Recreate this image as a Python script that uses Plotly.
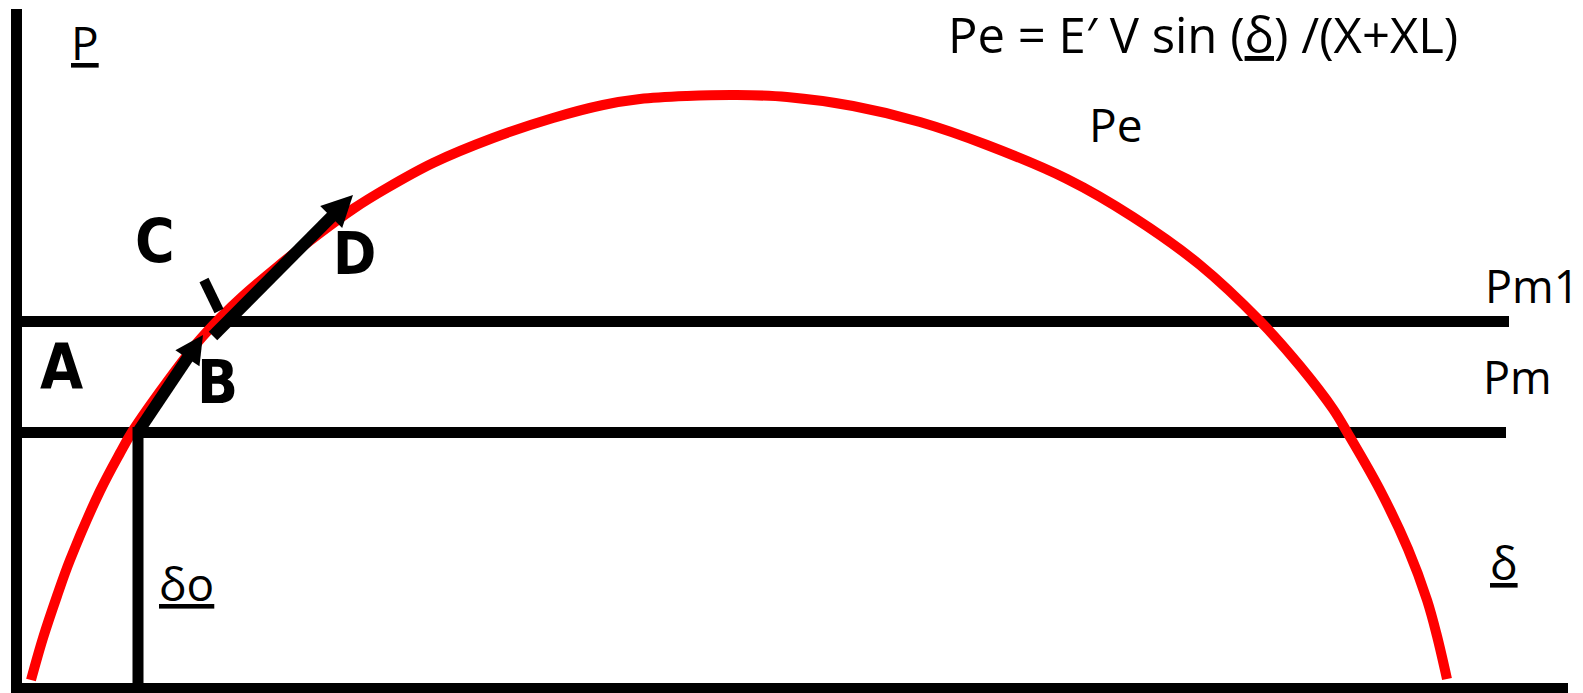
import math
import plotly.graph_objects as go

W, H = 1583, 693

# Electrical power curve Pe(δ), sampled along the drawn arc (diagram units)
pe_delta = [31, 43, 57, 70, 100, 120, 132, 167, 197, 220, 243, 277, 320, 353,
            387, 433, 493, 553, 603, 640, 687, 737, 787, 853, 920, 987, 1067,
            1133, 1200, 1260, 1300, 1333, 1347, 1380, 1408, 1427, 1437, 1447]
pe_power = [13, 55, 97, 133, 202, 240, 261, 311, 350, 375, 397, 426, 460, 484,
            505, 530, 555, 575, 588, 594, 597, 598, 596, 587, 571, 548, 514,
            476, 428, 372, 327, 284, 261, 203, 144, 93, 57, 14]

# Mechanical power levels and the initial operating angle
pm_level = 260.5
pm1_level = 371.5
pm_line_end = 1506
pm1_line_end = 1509
delta0 = 138

# Axis extents
axis_delta = 16.5
axis_power = 4.5
axis_top = 684
axis_right = 1568

# Motion along the curve: A -> B, then C -> D
arrow_ab = [(138, 261), (203, 358)]
arrow_cd = [(213, 357), (353, 498)]
tick_c = [(204, 413), (219, 382)]

BLACK = "#000000"
RED = "#ff0000"
LW = 11

fig = go.Figure()


def seg(xs, ys, color=BLACK, width=LW):
    fig.add_trace(go.Scatter(x=xs, y=ys, mode="lines",
                             line=dict(color=color, width=width),
                             hoverinfo="skip", showlegend=False))


def arrow(tail, tip, width=12, head_len=30, head_w=30):
    dx, dy = tip[0] - tail[0], tip[1] - tail[1]
    n = math.hypot(dx, dy)
    ux, uy = dx / n, dy / n
    px, py = -uy, ux
    bx, by = tip[0] - ux * head_len, tip[1] - uy * head_len
    seg([tail[0], bx + ux * 4], [tail[1], by + uy * 4], width=width)
    fig.add_trace(go.Scatter(
        x=[tip[0], bx + px * head_w / 2, bx - px * head_w / 2, tip[0]],
        y=[tip[1], by + py * head_w / 2, by - py * head_w / 2, tip[1]],
        mode="lines", fill="toself", fillcolor=BLACK,
        line=dict(color=BLACK, width=0), hoverinfo="skip", showlegend=False))


# axes
seg([axis_delta, axis_delta], [0, axis_top])
seg([axis_delta - 5.5, axis_right], [axis_power, axis_power])

# Pm and Pm1 levels
seg([axis_delta, pm1_line_end], [pm1_level, pm1_level])
seg([axis_delta, pm_line_end], [pm_level, pm_level])

# Pe curve
fig.add_trace(go.Scatter(x=pe_delta, y=pe_power, mode="lines",
                         line=dict(color=RED, width=10, shape="spline", smoothing=1.0),
                         hoverinfo="skip", showlegend=False))

# δo drop line
seg([delta0, delta0], [axis_power, pm_level + LW / 2])

# arrows along the curve
arrow(*arrow_ab, width=12, head_len=28, head_w=29)
arrow(*arrow_cd, width=12, head_len=31, head_w=31)
seg([tick_c[0][0], tick_c[1][0]], [tick_c[0][1], tick_c[1][1]], width=10)

THIN = "Open Sans, Noto Sans, DejaVu Sans, sans-serif"
BOLD = "Liberation Sans Narrow, DejaVu Sans Condensed, Roboto, sans-serif"


def label(x, y, text, size, family=THIN, bold=False):
    fig.add_annotation(x=x, y=y, text=text, showarrow=False,
                       xanchor="center", yanchor="middle",
                       font=dict(family=family, size=size, color=BLACK,
                                 weight="bold" if bold else "normal"))


label(85, 693 - 41.5, "<u>P</u>", 46)
label(1203, 693 - 33.5, "Pe = E\u2032 V sin (<u>\u03b4</u>) /(X+XL)", 49)
label(1116, 693 - 123.5, "Pe", 46)
label(1532, 693 - 285.5, "Pm1", 45)
label(1517, 693 - 376.5, "Pm", 45)
label(1504, 693 - 562, "<u>\u03b4</u>", 46)
label(186, 693 - 583, "<u>\u03b4o</u>", 46)

label(61.5, 693 - 366.5, "A", 62, BOLD, True)
label(217.5, 693 - 381.5, "B", 60, BOLD, True)
label(155, 693 - 240.5, "C", 60, BOLD, True)
label(354.5, 693 - 253.5, "D", 58, BOLD, True)

fig.update_layout(
    width=W, height=H, autosize=False,
    margin=dict(l=0, r=0, t=0, b=0, pad=0),
    paper_bgcolor="white", plot_bgcolor="white",
    xaxis=dict(range=[0, W], visible=False, fixedrange=True),
    yaxis=dict(range=[0, H], visible=False, fixedrange=True),
    showlegend=False,
)

fig.write_html("out.html", config={"displayModeBar": False})
